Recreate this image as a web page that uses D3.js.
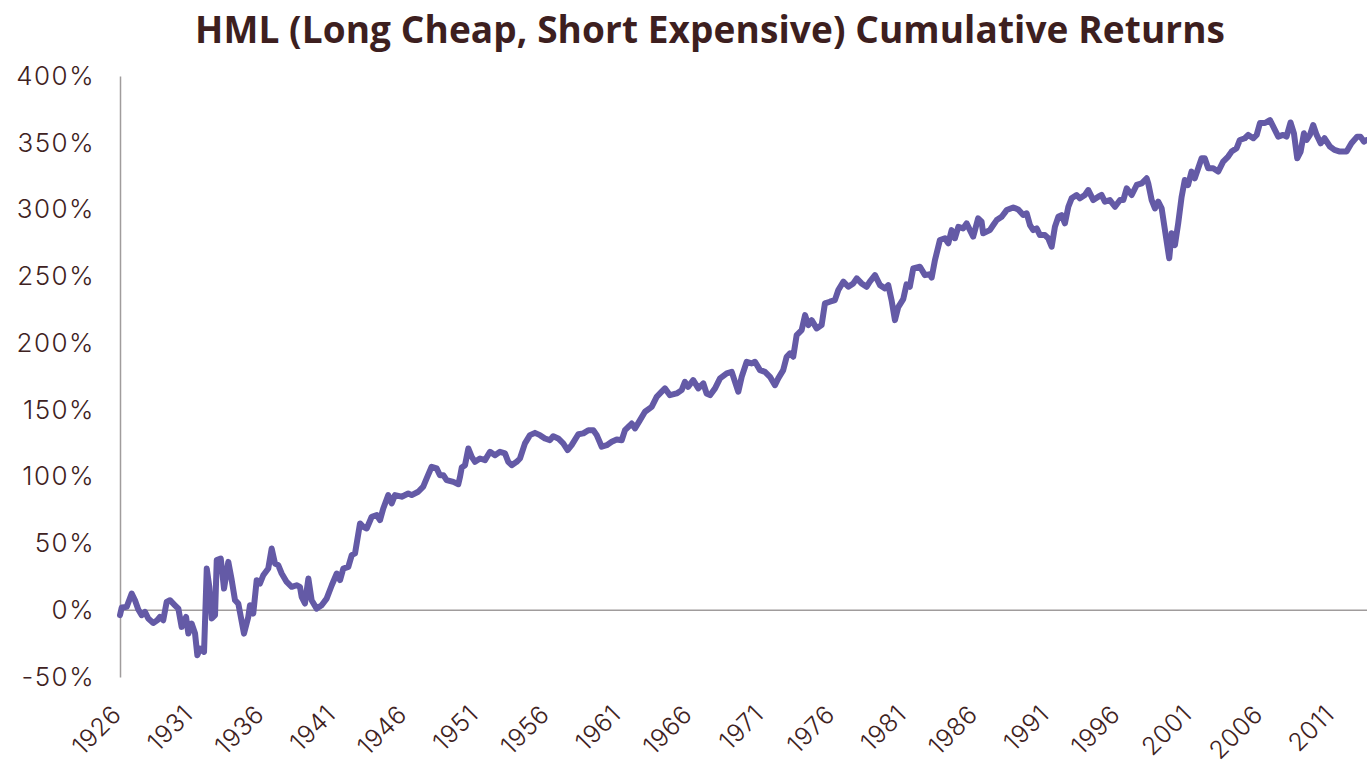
<!DOCTYPE html>
<html>
<head>
<meta charset="utf-8">
<script src="https://cdn.jsdelivr.net/npm/d3@7"></script>
<style>
  body { margin:0; background:#fff; }
  svg { display:block; }
</style>
</head>
<body>
<svg id="chart" width="1367" height="767"></svg>
<script>
var titulo = "HML (Long Cheap, Short Expensive) Cumulative Returns";
var yTicks = [-50, 0, 50, 100, 150, 200, 250, 300, 350, 400];
var xTicks = [1926,1931,1936,1941,1946,1951,1956,1961,1966,1971,1976,1981,1986,1991,1996,2001,2006,2011];

// fechas (anio decimal) y retorno acumulado en %
var fechas = [
1926.00,1926.12,1926.47,1926.82,1927.05,1927.28,1927.52,1927.75,1927.98,1928.33,
1928.61,1928.80,1929.03,1929.27,1929.50,1929.85,1930.09,1930.32,1930.63,1930.79,
1931.02,1931.26,1931.42,1931.61,1931.89,1932.08,1932.26,1932.43,1932.66,1932.78,
1933.06,1933.29,1933.59,1933.83,1934.06,1934.29,1934.69,1934.99,1935.11,1935.34,
1935.58,1935.81,1936.04,1936.39,1936.63,1936.86,1937.09,1937.33,1937.68,1938.03,
1938.38,1938.61,1938.73,1938.96,1939.20,1939.43,1939.78,1940.13,1940.48,1940.84,
1941.19,1941.42,1941.65,1942.00,1942.24,1942.47,1942.82,1943.05,1943.29,1943.64,
1943.99,1944.22,1944.45,1944.80,1945.04,1945.27,1945.74,1946.20,1946.44,1946.90,
1947.25,1947.49,1947.84,1948.19,1948.42,1948.66,1948.89,1949.36,1949.71,1949.83,
1949.95,1950.18,1950.41,1950.65,1950.88,1951.23,1951.58,1951.93,1952.28,1952.63,
1952.98,1953.21,1953.45,1953.80,1954.03,1954.38,1954.73,1955.08,1955.43,1955.78,
1956.13,1956.36,1956.71,1957.06,1957.37,1957.65,1958.12,1958.47,1958.82,1959.17,
1959.41,1959.76,1960.11,1960.46,1960.81,1961.16,1961.39,1961.86,1962.09,1962.44,
1962.79,1963.26,1963.61,1963.96,1964.19,1964.54,1965.01,1965.36,1965.59,1965.82,
1966.17,1966.53,1966.88,1967.11,1967.35,1967.70,1968.05,1968.52,1968.87,1969.10,
1969.33,1969.57,1969.92,1970.27,1970.50,1970.85,1971.20,1971.55,1971.90,1972.13,
1972.48,1972.72,1972.95,1973.18,1973.42,1973.77,1974.01,1974.24,1974.47,1974.82,
1975.17,1975.40,1975.75,1976.10,1976.34,1976.69,1977.04,1977.39,1977.63,1977.97,
1978.32,1978.55,1978.91,1979.26,1979.61,1979.84,1980.07,1980.31,1980.54,1980.89,
1981.12,1981.35,1981.59,1982.06,1982.41,1982.76,1982.88,1983.11,1983.46,1983.81,
1984.05,1984.28,1984.51,1984.75,1985.09,1985.33,1985.79,1986.14,1986.38,1986.49,
1986.96,1987.20,1987.44,1987.79,1988.14,1988.60,1988.95,1989.30,1989.54,1989.77,
1990.00,1990.24,1990.47,1990.82,1991.05,1991.29,1991.52,1991.76,1991.99,1992.22,
1992.46,1992.69,1993.04,1993.27,1993.62,1993.86,1994.21,1994.56,1994.79,1995.02,
1995.37,1995.73,1996.08,1996.31,1996.55,1996.90,1997.25,1997.60,1997.95,1998.06,
1998.30,1998.53,1998.76,1999.00,1999.23,1999.53,1999.70,1999.93,2000.16,2000.40,
2000.62,2000.85,2001.09,2001.32,2001.56,2001.80,2002.02,2002.26,2002.61,2002.96,
2003.31,2003.66,2003.90,2004.25,2004.48,2004.83,2005.07,2005.42,2005.66,2005.89,
2006.24,2006.59,2006.82,2007.17,2007.51,2007.75,2008.03,2008.27,2008.50,2008.74,
2008.97,2009.16,2009.39,2009.62,2009.86,2010.14,2010.41,2010.79,2011.11,2011.49,
2011.96,2012.30,2012.70,2012.93,2013.17,2013.35
];
var hml = [
-3.7,2,2.5,12.5,7.5,0.5,-3.7,-1.2,-6.2,-9.5,
-7.5,-5,-7.5,6.2,7.5,3.7,1.2,-12.5,-5,-17.5,
-10,-17.5,-33.7,-28.7,-31.2,31.2,17.5,-6.2,-3.7,37.5,
38.7,16.2,36.2,22.5,7.5,5,-17.5,-5,3.7,-2.5,
22.5,20,26.2,31.2,46.2,35,33.7,27.5,21.2,17.5,
18.7,17.5,10,5,23.7,7.5,1.2,3.7,8.7,18.7,
27.5,22.5,31.2,32.5,41.2,42.5,65,62.5,61.2,70,
71.2,67.5,76.2,86.2,80,86.2,85,87.4,86.2,88.7,
92.5,98.7,107.4,106.2,101.1,101.1,97.4,96.1,94.4,99.9,
106.9,108.6,121.1,114.8,111.1,113.6,112.4,118.6,116.1,118.6,
117.4,111.1,108.6,111.1,113.6,124.9,131.1,132.8,131.1,128.6,
127.3,130.3,128.6,124.9,119.9,123.6,131.8,132.4,134.8,134.8,
131.1,122.4,123.6,126.1,127.8,127.3,134.8,139.8,136.1,142.3,
148.6,152.3,159.8,163.6,166.1,161.0,162.3,164.8,171.0,167.3,
172.3,166.1,169.8,162.3,161.0,166.1,173.6,177.3,178.5,171.0,
163.6,174.8,186.0,184.8,186.0,179.8,178.5,174.8,168.5,173.6,
179.8,189.8,192.3,189.8,206.0,209.7,221.0,213.5,217.2,211.0,
213.5,229.7,231.0,232.2,239.7,246.0,242.2,244.7,248.5,244.7,
242.2,246.0,250.9,243.4,241.0,243.4,232.2,217.2,227.0,233.0,
244.0,242.2,255.9,257.2,250.9,251.5,249.0,262.0,277.2,278.5,
274.7,284.6,278.5,287.1,285.9,289.7,279.7,293.4,290.9,282.2,
284.6,288.4,292.1,294.6,299.6,301.6,300.1,295.9,297.2,288.4,
284.6,285.9,280.9,280.9,278.5,272.2,287.1,294.6,295.9,289.7,
302.1,308.4,310.9,308.4,310.9,314.6,307.1,309.6,310.9,305.9,
307.1,302.1,307.1,307.1,315.9,310.9,318.4,319.6,323.4,319.6,
307.1,300.9,305.9,300.9,284.6,263.5,282.2,273.4,289.7,309.6,
322.1,318.4,328.4,323.4,330.9,338.4,338.4,330.9,330.9,328.4,
335.9,339.7,343.4,345.9,352.1,353.4,355.9,353.4,355.9,364.8,
364.8,367.0,362.1,354.6,355.9,354.6,365.2,357.1,338.4,343.4,
357.1,352.1,355.9,363.3,355.9,349.6,353.4,347.2,344.7,343.4,
343.4,349.6,354.6,354.6,350.9,352
];

var data = fechas.map((f,i)=>{ return {fecha:f, valor:hml[i]}; });

var svg = d3.select("#chart");
var x = d3.scaleLinear().domain([1926, 2013.39]).range([120, 1367]);
var y = d3.scaleLinear().domain([-50, 400]).range([677, 76]);

var colorTexto = "#3e2222";
var colorEje = "#a09c9c";

/* titulo: se ajusta el espaciado para que ocupe el mismo ancho que el original */
var tit = svg.append("text")
  .attr("x", 195).attr("y", 43)
  .attr("font-family", "'Open Sans', Lato, sans-serif")
  .attr("font-weight", 700)
  .attr("font-size", 37)
  .attr("fill", "#3d1f1f")
  .text(titulo);
var largo = tit.node().getComputedTextLength();
tit.attr("letter-spacing", (1030 - largo) / (titulo.length - 1));

/* eje y */
var yAx = d3.axisLeft(y).tickValues(yTicks).tickSize(0).tickPadding(25)
  .tickFormat(d=>d+"%");
var gy = svg.append("g").attr("transform","translate(120,0)").call(yAx);
gy.select(".domain").attr("stroke", colorEje).attr("stroke-width", 1.5);
gy.selectAll("text")
  .attr("font-family", "Inter, sans-serif")
  .attr("font-weight", 300)
  .attr("font-size", 26)
  .attr("letter-spacing", 1.5)
  .attr("fill", colorTexto);

/* linea del cero */
svg.append("line")
  .attr("x1", 120).attr("x2", 1367)
  .attr("y1", y(0)).attr("y2", y(0))
  .attr("stroke", colorEje).attr("stroke-width", 1.5);

/* eje x con etiquetas rotadas */
var xAx = d3.axisBottom(x).tickValues(xTicks).tickSize(0).tickFormat(d=>d);
var gx = svg.append("g").call(xAx);
gx.select(".domain").remove();
gx.selectAll(".tick").attr("transform", d=>"translate("+(x(d)+3)+",716)");
gx.selectAll("text")
  .attr("x", 0).attr("y", 0).attr("dy", 0)
  .attr("text-anchor", "end")
  .attr("transform", "rotate(-45)")
  .attr("font-family", "Inter, sans-serif")
  .attr("font-weight", 300)
  .attr("font-size", 25)
  .attr("letter-spacing", 0.5)
  .attr("fill", colorTexto);

/* serie */
var linea = d3.line().x(d=>x(d.fecha)).y(d=>y(d.valor));
svg.append("path")
  .datum(data)
  .attr("d", linea)
  .attr("fill", "none")
  .attr("stroke", "#645aa6")
  .attr("stroke-width", 6)
  .attr("stroke-linejoin", "round")
  .attr("stroke-linecap", "round");
</script>
</body>
</html>
